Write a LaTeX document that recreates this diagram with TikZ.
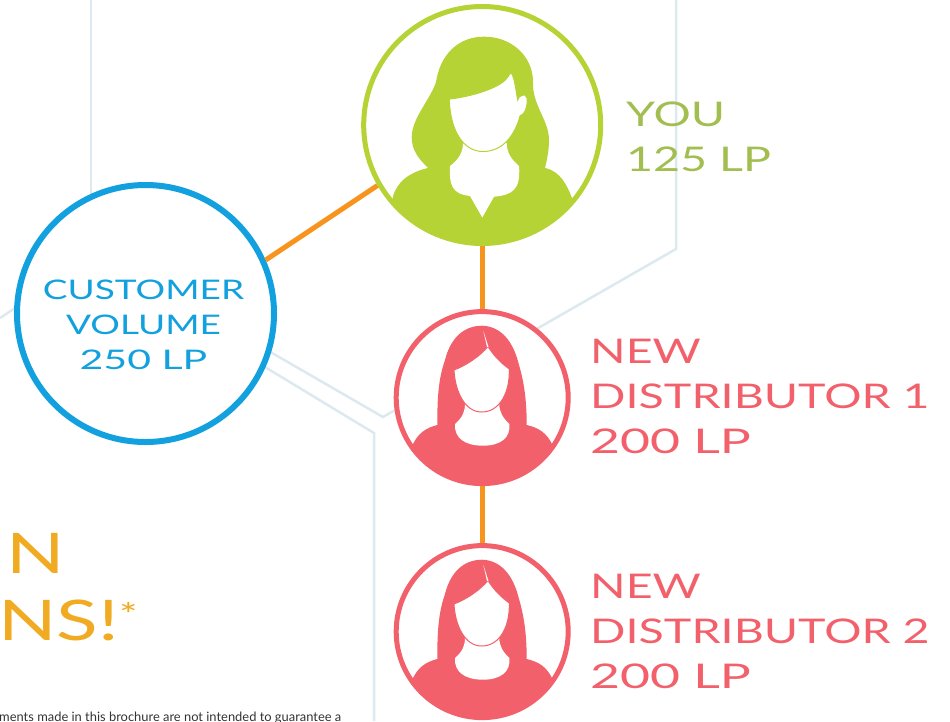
\documentclass[tikz,border=0pt]{standalone}
\usepackage{fontspec}
\usepackage{tikz}
\setmainfont{Lato}
\newfontfamily\widefont[FakeStretch=1.37]{Lato}
\newfontfamily\numfont[FakeStretch=1.52]{Lato}
\definecolor{yougreen}{HTML}{B5D334}
\definecolor{youtext}{HTML}{A2BE50}
\definecolor{distred}{HTML}{F2616B}
\definecolor{custblue}{HTML}{12A1DE}
\definecolor{linkorange}{HTML}{F7941D}
\definecolor{earngold}{HTML}{F0AB22}
\definecolor{hexgrey}{HTML}{DCE9EE}
\tikzstyle{person} = [circle, minimum size=172pt, inner sep=0pt, line width=5pt, draw=distred, fill=white]
\tikzstyle{lead} = [person, minimum size=237pt, draw=yougreen]
\tikzstyle{customer} = [person, minimum size=257pt, line width=6pt, draw=custblue]
\tikzstyle{custlabel} = [inner sep=0pt, align=center, text=custblue, font=\widefont\fontsize{27}{35}\selectfont]
\tikzstyle{distlabel} = [anchor=west, inner sep=0pt, align=left, text=distred, font=\widefont\fontsize{34}{45}\selectfont]
\tikzstyle{youlabel} = [distlabel, text=youtext]
\tikzstyle{earnlabel} = [inner sep=0pt, text=earngold, font=\widefont\fontsize{56}{67}\selectfont]
\tikzstyle{hexline} = [line width=2.5pt, draw=hexgrey]
\tikzstyle{link} = [line width=5pt, draw=linkorange]
\newcommand{\girlfig}{%
\begin{scope}
\clip (482.3,397.6) circle (86);
\fill [distred] (481.7,325.7) .. controls (500,326) and (513,340) .. (519,365) .. controls (525,385) and (526.7,405) .. (526.7,425) .. controls (540,428) and (547,434) .. (552,444) -- (580,500) -- (385,500) -- (413,444) .. controls (418,434) and (425,428) .. (437.3,425) .. controls (437.3,400) and (438,380) .. (445,360) .. controls (450,340) and (462,326) .. (481.7,325.7) -- cycle;
\fill [white] (465,404) .. controls (465,412) and (462,418) .. (455,424) .. controls (454,438) and (465,445.7) .. (483,445.7) .. controls (500,445.7) and (511,438) .. (509.3,424) .. controls (503,418) and (499.3,412) .. (499.3,404) -- cycle;
\draw [distred, fill=white, line width=1pt] (454,370) .. controls (467,365) and (480,356) .. (488,346.5) .. controls (494,356) and (501,363) .. (509.3,369) .. controls (510,392) and (500,412) .. (481.7,412) .. controls (464,412) and (455,390) .. (454,370) -- cycle;
\fill [white] (483.3,330.7) -- (488.5,347) -- (487,347) -- cycle;
\end{scope}
}
\begin{document}
\begin{tikzpicture}[x=1pt, y=-1pt, node distance=272pt]
\useasboundingbox (0,0) rectangle (950,721);
\clip (0,0) rectangle (950,721);
% background hexagon lines
\coordinate (hexa) at (91,0);
\coordinate (hexb) at (91,200);
\coordinate (hexc) at (676,0);
\coordinate (hexd) at (676,249);
\coordinate (hexe) at (383,417);
\coordinate (hexf) at (260,346);
\coordinate (hexg) at (0,318);
\coordinate (hexh) at (30,298);
\coordinate (hexi) at (255,361);
\coordinate (hexj) at (374,433);
\coordinate (hexk) at (374,721);
\draw [hexline] (hexa) -- (hexb);
\draw [hexline] (hexc) -- (hexd) -- (hexe) -- (hexf);
\draw [hexline] (hexg) -- (hexh);
\draw [hexline] (hexi) -- (hexj) -- (hexk);

\node (you) [lead] at (482.2,125) {};
\node (dist1) [person, below of=you, yshift=-0.6pt] {};
\node (dist2) [person, below of=dist1, node distance=234pt] {};
\node (cust) [customer] at (145.5,313.5) {};
\node (custtxt) [custlabel] at (143.5,325) {CUSTOMER\\VOLUME\\{\numfont 250 LP}};

% green figure
\begin{scope}
\clip (482.2,125) circle (118.5);
\fill [yougreen] (483,36.7) .. controls (510,36) and (533,55) .. (533,82) .. controls (532,105) and (549,120) .. (549,140) .. controls (549,150) and (547,160) .. (545,168) .. controls (560,171) and (567,185) .. (572,198) -- (600,260) -- (370,260) -- (392.7,198) .. controls (396,182) and (410,172) .. (428,168) .. controls (418,158) and (411.7,150) .. (411.7,137) .. controls (412,118) and (430,100) .. (436,82) .. controls (440,55) and (458,37) .. (483,36.7) -- cycle;
\fill [white] (463,143) .. controls (463,153) and (458,160) .. (450,166) .. controls (449,185) and (452,194) .. (470,196) -- (482.3,217.5) -- (494,196.7) .. controls (512,195) and (521,190) .. (519,166) .. controls (512,160) and (506.7,153) .. (506.7,143) -- cycle;
\draw [yougreen, fill=white, line width=1pt] (449.3,99) .. controls (470,97) and (500,88) .. (507,78) .. controls (509,76) and (510,73) .. (511,72.5) .. controls (515,78) and (516,92) .. (517.7,100) .. controls (518,96) and (526,92) .. (527,98) .. controls (528,105) and (525,115) .. (520,116) .. controls (515,135) and (503,151.5) .. (483,151.5) .. controls (463,151.5) and (450,130) .. (449.3,99) -- cycle;
\end{scope}

% red figures
\girlfig
\begin{scope}[yshift=-234pt]
\girlfig
\end{scope}

\draw [link] (cust.24) -- (you.210);
\draw [link] (you) -- (dist1);
\draw [link] (dist1) -- (dist2);

\node (youtxt) [youlabel] at (626,137) {YOU\\125 LP};
\node (dist1txt) [distlabel] at (590,396) {NEW\\DISTRIBUTOR 1\\{\numfont 200 LP}};
\node (dist2txt) [distlabel, below of=dist1txt, node distance=235pt] {NEW\\DISTRIBUTOR 2\\{\numfont 200 LP}};
\node (earna) [earnlabel, anchor=base east] at (65,573) {IN};
\node (earnb) [earnlabel, anchor=base west] at (-2,640) {NS!\raisebox{14pt}{\fontsize{32}{32}\selectfont *}};
\node (note) [anchor=base west, inner sep=0pt, text=black!80, font=\fontsize{12.9}{14}\selectfont] at (-1,721.5) {ments made in this brochure are not intended to guarantee a};
\end{tikzpicture}
\end{document}
